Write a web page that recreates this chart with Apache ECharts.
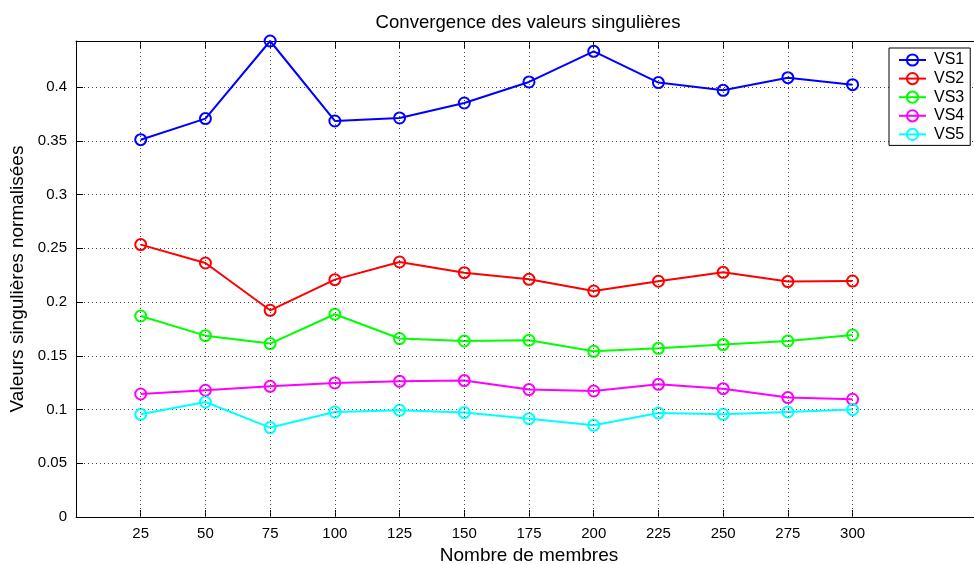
<!DOCTYPE html>
<html>
<head>
<meta charset="utf-8">
<script src="https://cdn.jsdelivr.net/npm/echarts@6/dist/echarts.min.js"></script>
<style>
  html, body { margin: 0; padding: 0; background: #fff; }
  #chart { width: 974px; height: 564px; }
</style>
</head>
<body>
<div id="chart"></div>
<script>
// nombre de membres
var xTicks = [25, 50, 75, 100, 125, 150, 175, 200, 225, 250, 275, 300];
var yTicks = [0, 0.05, 0.1, 0.15, 0.2, 0.25, 0.3, 0.35, 0.4];

// valeurs singulieres normalisees
var vs1 = [0.351, 0.3706, 0.4428, 0.3684, 0.3712, 0.3851, 0.4047, 0.4332, 0.4041, 0.3969, 0.4087, 0.4022];
var vs2 = [0.2534, 0.2363, 0.1923, 0.2208, 0.2372, 0.2273, 0.2211, 0.2102, 0.2193, 0.2276, 0.2190, 0.2195];
var vs3 = [0.1870, 0.1687, 0.1613, 0.1886, 0.1660, 0.1637, 0.1644, 0.1541, 0.1569, 0.1604, 0.1637, 0.1693];
var vs4 = [0.1144, 0.1179, 0.1216, 0.1247, 0.1262, 0.1269, 0.1185, 0.1172, 0.1234, 0.1194, 0.1111, 0.1095];
var vs5 = [0.0955, 0.1070, 0.0832, 0.0977, 0.0993, 0.0971, 0.0915, 0.0853, 0.0967, 0.0955, 0.0977, 0.0999];

var names = ["VS1", "VS2", "VS3", "VS4", "VS5"];
var colors = ["#0000ff", "#ff0000", "#00ff00", "#ff00ff", "#00ffff"];
var font = "Liberation Sans, Arial, Helvetica, sans-serif";

var chart = echarts.init(document.getElementById("chart"));

function pairs(vals) {
  return xTicks.map(function (x, i) { return [x, vals[i]]; });
}

var gridDots = { color: "#444", width: 1, type: [1, 3] };

// vertical grid lines first so the curves sit on top
var series = [{
  type: "line",
  data: [],
  silent: true,
  z: 1,
  markLine: {
    silent: true,
    symbol: "none",
    label: { show: false },
    lineStyle: gridDots,
    emphasis: { disabled: true },
    data: xTicks.map(function (v) { return { xAxis: v }; })
  }
}];

[vs1, vs2, vs3, vs4, vs5].forEach(function (vals, i) {
  series.push({
    name: names[i],
    type: "line",
    data: pairs(vals),
    symbol: "circle",
    symbolSize: 11,
    lineStyle: { color: colors[i], width: 2 },
    itemStyle: { color: "rgba(0,0,0,0)", borderColor: colors[i], borderWidth: 2 },
    z: 3
  });
});

var option = {
  animation: false,
  backgroundColor: "#fff",
  title: {
    text: "Convergence des valeurs singulières",
    left: 523,
    textAlign: "center",
    top: 8,
    textStyle: { fontFamily: font, fontSize: 18.6, fontWeight: "normal", color: "#000" }
  },
  legend: {
    data: names,
    orient: "vertical",
    left: 889,
    top: 48,
    padding: [4, 6, 3, 9],
    itemWidth: 27,
    itemHeight: 14,
    itemGap: 2.6,
    backgroundColor: "#fff",
    borderColor: "#000",
    borderWidth: 1,
    borderRadius: 0,
    textStyle: { fontFamily: font, fontSize: 16, color: "#000", padding: [0, 0, 0, 3] }
  },
  grid: { left: 76, right: -8, top: 41, bottom: 47, containLabel: false, outerBoundsMode: "none" },
  xAxis: [{
    type: "value",
    min: 0,
    max: 350,
    interval: 25,
    name: "Nombre de membres",
    nameLocation: "middle",
    nameGap: 26,
    nameTextStyle: { fontFamily: font, fontSize: 19, color: "#000" },
    axisLine: { lineStyle: { color: "#000", width: 1 } },
    axisTick: { inside: true, length: 7, customValues: xTicks, lineStyle: { color: "#000" } },
    axisLabel: { customValues: xTicks, fontFamily: font, fontSize: 15, color: "#000", margin: 9 },
    splitLine: { show: false }
  }, {
    type: "value",
    position: "top",
    min: 0,
    max: 350,
    interval: 25,
    axisLine: { lineStyle: { color: "#000", width: 1 } },
    axisTick: { inside: true, length: 7, customValues: xTicks, lineStyle: { color: "#000" } },
    axisLabel: { show: false },
    splitLine: { show: false }
  }],
  yAxis: {
    type: "value",
    min: 0,
    max: 0.4428,
    interval: 0.05,
    name: "Valeurs singulières normalisées",
    nameLocation: "middle",
    nameGap: 47,
    nameTextStyle: { fontFamily: font, fontSize: 19, color: "#000" },
    axisLine: { show: true, lineStyle: { color: "#000", width: 1 } },
    axisTick: { show: true, inside: true, length: 7, customValues: yTicks, lineStyle: { color: "#000" } },
    axisLabel: { customValues: yTicks, fontFamily: font, fontSize: 15, color: "#000", margin: 9 },
    splitLine: { show: true, lineStyle: gridDots }
  },
  series: series
};

chart.setOption(option);
</script>
</body>
</html>
